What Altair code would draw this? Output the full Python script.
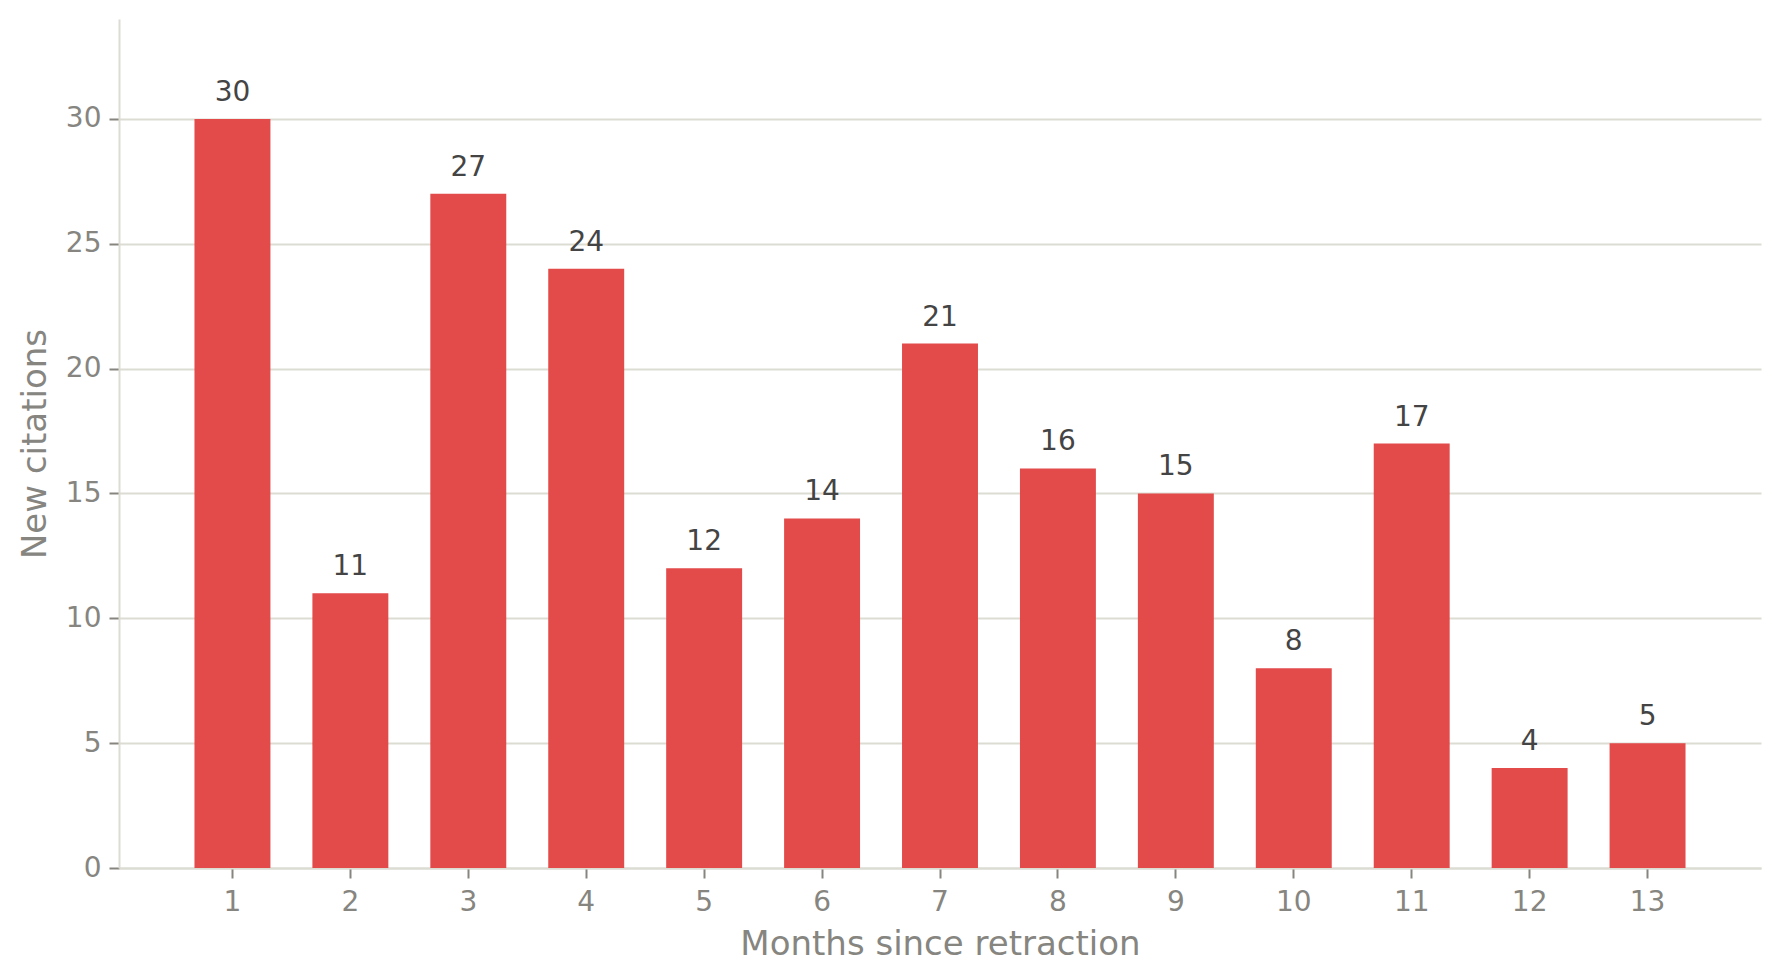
import altair as alt
import pandas as pd

months = [1, 2, 3, 4, 5, 6, 7, 8, 9, 10, 11, 12, 13]
citations = [30, 11, 27, 24, 12, 14, 21, 16, 15, 8, 17, 4, 5]

df = pd.DataFrame({"month": months, "citations": citations})

BAR = "#E34A4A"
GRAY = "#86857F"
LIGHT = "#DCDCD3"
FONT = "DejaVu Sans"

x = alt.X(
    "month:O",
    title="Months since retraction",
    scale=alt.Scale(paddingInner=0.356, paddingOuter=0.64),
    axis=alt.Axis(
        labelAngle=0,
        labelFont=FONT,
        labelFontSize=28,
        labelColor=GRAY,
        labelPadding=10,
        tickColor=GRAY,
        tickSize=10,
        tickWidth=2,
        domainColor=LIGHT,
        domainWidth=2,
        titleFont=FONT,
        titleFontSize=34,
        titleFontWeight="normal",
        titleColor=GRAY,
        titlePadding=11,
        grid=False,
    ),
)

y = alt.Y(
    "citations:Q",
    title="New citations",
    scale=alt.Scale(domain=[0, 34], nice=False),
    axis=alt.Axis(
        values=[0, 5, 10, 15, 20, 25, 30],
        labelFont=FONT,
        labelFontSize=28,
        labelColor=GRAY,
        labelPadding=8,
        tickColor=GRAY,
        tickSize=10,
        tickWidth=2,
        domainColor=LIGHT,
        domainWidth=2,
        gridColor=LIGHT,
        gridWidth=2,
        titleFont=FONT,
        titleFontSize=34,
        titleFontWeight="normal",
        titleColor=GRAY,
        titlePadding=13,
    ),
)

bars = alt.Chart(df).mark_bar(color=BAR).encode(x=x, y=y)

labels = alt.Chart(df).mark_text(
    font=FONT, fontSize=28, color="#444444", baseline="alphabetic", dy=-18
).encode(x=alt.X("month:O"), y=alt.Y("citations:Q"), text=alt.Text("citations:Q"))

chart = (
    alt.layer(bars, labels)
    .properties(
        width=1642,
        height=849,
        padding={"left": 111, "top": 11, "right": 10, "bottom": 110},
        autosize="none",
    )
    .configure_view(stroke=None)
)

chart.save("out.html", embed_options={"renderer": "svg", "actions": False})
